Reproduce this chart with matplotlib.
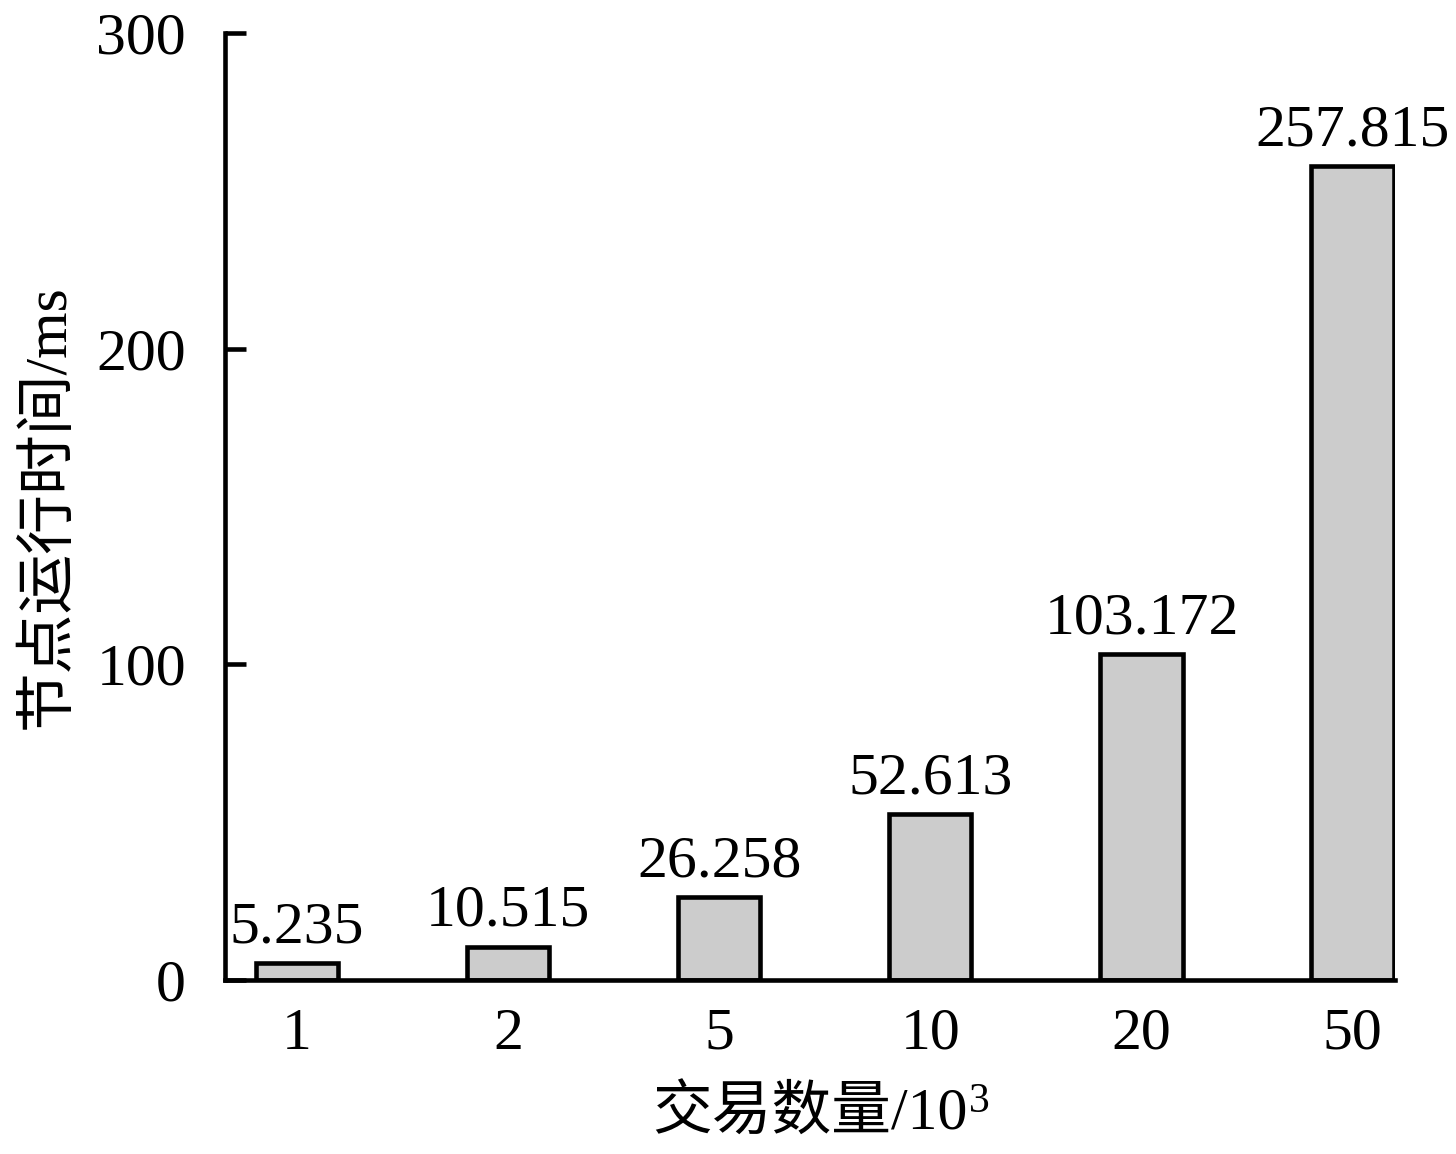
import matplotlib
matplotlib.use("Agg")
import matplotlib.pyplot as plt

# data
categories = ["1", "2", "5", "10", "20", "50"]
run_time_ms = [5.235, 10.515, 26.258, 52.613, 103.172, 257.815]
value_labels = ["5.235", "10.515", "26.258", "52.613", "103.172", "257.815"]
y_ticks = [0, 100, 200, 300]

plt.rcParams["font.family"] = ["Liberation Serif", "Noto Sans CJK SC"]
plt.rcParams["font.size"] = 43

fig = plt.figure(figsize=(14.56, 11.54), dpi=100)
ax = fig.add_axes([0.1545, 0.1508, 0.8035, 0.8206])

x = list(range(len(categories)))
ax.bar(x, run_time_ms, width=0.39, color="#cccccc", edgecolor="black", linewidth=3.3)

for xi, v, lab in zip(x, run_time_ms, value_labels):
    ax.text(xi, v + 2.5, lab, ha="center", va="bottom", fontsize=43)

ax.set_xlim(-0.34, 5.2)
ax.set_ylim(0, 300)
ax.set_yticks(y_ticks)
ax.set_xticks(x)
ax.set_xticklabels(categories)

for s in ["top", "right"]:
    ax.spines[s].set_visible(False)
for s in ["left", "bottom"]:
    ax.spines[s].set_linewidth(3.3)

ax.tick_params(axis="y", direction="in", length=15, width=3.3, pad=28, labelsize=43)
ax.tick_params(axis="x", length=0, pad=20, labelsize=43)

ax.set_ylabel("节点运行时间/ms", fontsize=43, labelpad=14)
xl = ax.set_xlabel("交易数量/10", fontsize=43, labelpad=18)

# superscript 3 placed right after the x label
fig.canvas.draw()
bb = xl.get_window_extent()
W, H = fig.get_size_inches() * fig.dpi
fig.text((bb.x1 + 1) / W, (bb.y1 + 4) / H, "3", fontsize=30, ha="left", va="top")

fig.savefig("out.png", dpi=100)
plt.close(fig)
